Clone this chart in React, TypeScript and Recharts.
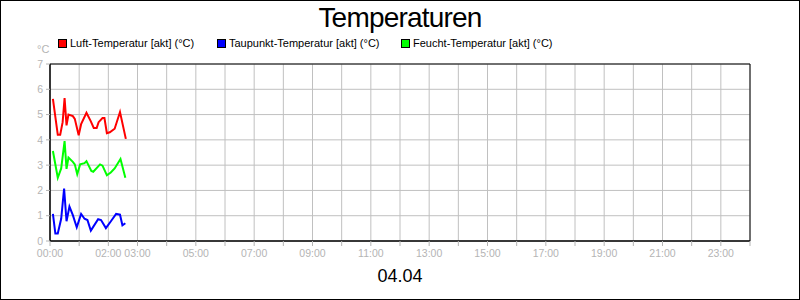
import * as React from 'react';
import {
  CartesianGrid,
  Line,
  LineChart,
  ReferenceArea,
  XAxis,
  YAxis,
} from 'recharts';

const FONT = '"Liberation Sans", Arial, sans-serif';
const GRID = '#c0c0c0';
const TICK = '#b4b4b4';

// minutes since 00:00 and °C values
const airTimes = [6, 16, 21, 26, 30, 34, 38, 47, 51, 59, 64, 75, 84, 90, 96, 100, 108, 112, 117, 123, 133, 144, 156];
const airTemp = [5.62, 4.2, 4.2, 4.7, 5.65, 4.57, 5.0, 4.94, 4.83, 4.18, 4.62, 5.07, 4.73, 4.47, 4.47, 4.7, 4.86, 4.86, 4.26, 4.3, 4.44, 5.1, 4.04];

const dewTimes = [6, 11, 16, 23, 29, 34, 40, 47, 55, 64, 71, 77, 84, 99, 105, 115, 126, 136, 144, 149, 155];
const dewTemp = [1.07, 0.3, 0.3, 0.88, 2.07, 0.78, 1.36, 1.02, 0.54, 1.07, 0.88, 0.83, 0.41, 0.86, 0.83, 0.51, 0.8, 1.07, 1.04, 0.62, 0.7];

const wetTimes = [6, 16, 23, 30, 34, 38, 47, 51, 56, 62, 71, 75, 85, 89, 103, 108, 117, 125, 133, 145, 155];
const wetTemp = [3.56, 2.5, 2.87, 3.95, 2.85, 3.3, 3.13, 3.03, 2.64, 3.03, 3.08, 3.16, 2.77, 2.74, 3.03, 2.98, 2.6, 2.71, 2.87, 3.24, 2.5];

const hourTicks = Array.from({ length: 25 }, (_, i) => i * 60);
const labeledHours = [0, 2, 3, 5, 7, 9, 11, 13, 15, 17, 19, 21, 23];
const yTicks = [0, 1, 2, 3, 4, 5, 6, 7];

const series = [
  { name: 'Luft-Temperatur [akt] (°C)', color: '#ff0000', times: airTimes, values: airTemp, left: 58 },
  { name: 'Taupunkt-Temperatur [akt] (°C)', color: '#0000ff', times: dewTimes, values: dewTemp, left: 217 },
  { name: 'Feucht-Temperatur [akt] (°C)', color: '#00ff00', times: wetTimes, values: wetTemp, left: 401 },
];

const toPoints = (times: number[], values: number[]) =>
  times.map((t, i) => ({ t, v: values[i] }));

function HourTick(props: any) {
  const { x, y, payload } = props;
  const h = payload.value / 60;
  if (!labeledHours.includes(h)) return null;
  const label = String(h).padStart(2, '0') + ':00';
  return (
    <text x={x} y={y + 9} textAnchor='middle' fill={TICK} fontSize={10.5} fontFamily={FONT}>
      {label}
    </text>
  );
}

export default function App() {
  return (
    <div
      style={{
        position: 'relative',
        width: 800,
        height: 300,
        boxSizing: 'border-box',
        border: '1px solid #000',
        background: '#fff',
        fontFamily: FONT,
        overflow: 'hidden',
      }}
    >
      <style>{'body{margin:0}'}</style>
      <LineChart
        width={798}
        height={298}
        margin={{ top: 63, right: 49, left: 0, bottom: 0 }}
        style={{ position: 'absolute', left: 0, top: 0 }}
      >
        <CartesianGrid stroke={GRID} strokeWidth={1} />
        <XAxis
          type='number'
          dataKey='t'
          domain={[0, 1440]}
          ticks={hourTicks}
          interval={0}
          height={58}
          tick={<HourTick />}
          tickSize={5}
          tickLine={{ stroke: TICK }}
          axisLine={{ stroke: '#000' }}
          allowDuplicatedCategory={false}
        />
        <YAxis
          type='number'
          domain={[0, 7]}
          ticks={yTicks}
          width={49}
          tickSize={4}
          tickMargin={3}
          tick={{ fill: TICK, fontSize: 10.5, fontFamily: FONT }}
          tickLine={{ stroke: TICK }}
          axisLine={{ stroke: '#000' }}
        />
        <ReferenceArea x1={0} x2={1440} y1={0} y2={7} fill='none' stroke='#000' strokeWidth={1} />
        {series.map((s) => (
          <Line
            key={s.name}
            data={toPoints(s.times, s.values)}
            dataKey='v'
            type='linear'
            stroke={s.color}
            strokeWidth={2}
            dot={false}
            isAnimationActive={false}
          />
        ))}
      </LineChart>

      <div
        style={{
          position: 'absolute',
          left: 0,
          width: 798,
          top: 1,
          textAlign: 'center',
          fontSize: 28,
          letterSpacing: -0.8,
          color: '#000',
        }}
      >
        Temperaturen
      </div>

      {series.map((s) => (
        <div
          key={s.name}
          style={{
            position: 'absolute',
            left: s.left - 1,
            top: 36,
            fontSize: 11,
            color: '#000',
            display: 'flex',
            alignItems: 'center',
            whiteSpace: 'nowrap',
          }}
        >
          <span
            style={{
              display: 'inline-block',
              width: 7,
              height: 7,
              background: s.color,
              border: '1px solid #000',
              marginRight: 3,
            }}
          />
          {s.name}
        </div>
      ))}

      <div style={{ position: 'absolute', left: 36, top: 42, fontSize: 11, color: TICK }}>°C</div>

      <div
        style={{
          position: 'absolute',
          left: 0,
          width: 798,
          top: 265,
          textAlign: 'center',
          fontSize: 18,
          color: '#000',
        }}
      >
        04.04
      </div>
    </div>
  );
}
